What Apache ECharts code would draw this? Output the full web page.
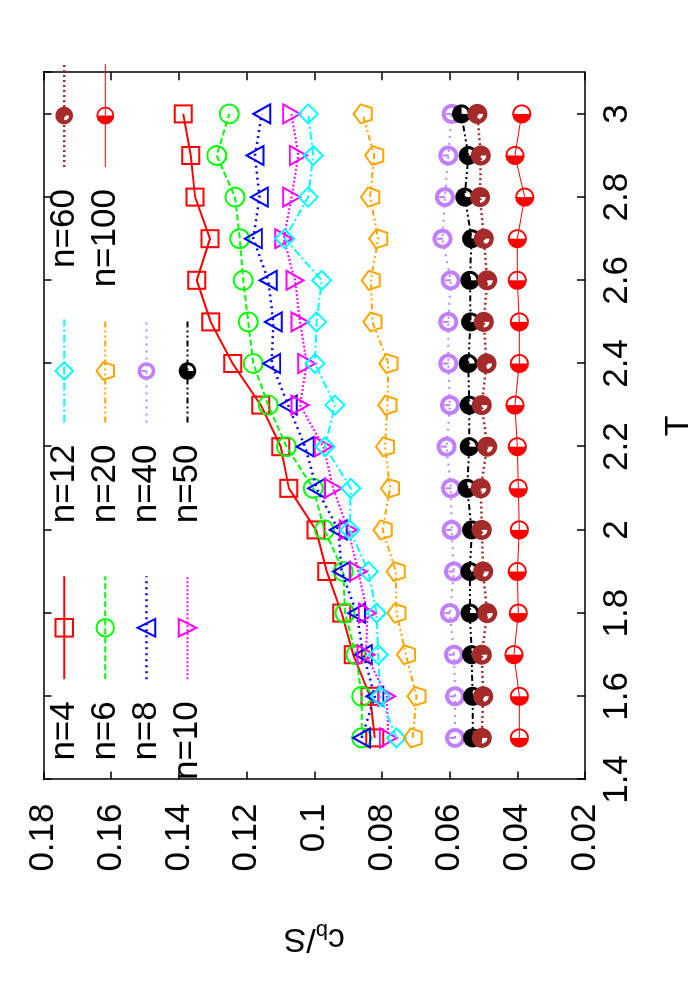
<!DOCTYPE html>
<html>
<head>
<meta charset="utf-8">
<script src="https://cdn.jsdelivr.net/npm/echarts@6/dist/echarts.min.js"></script>
<style>
html,body{margin:0;padding:0;width:700px;height:1000px;overflow:hidden;background:#fff;}
#chart{position:absolute;left:0;top:0;width:1000px;height:700px;transform-origin:0 0;transform:translate(0,1000px) rotate(-90deg);background:#fff;}
</style>
</head>
<body>
<div id="chart"></div>
<script>
// ---------------- data ----------------
const T_VALUES = [1.5, 1.6, 1.7, 1.8, 1.9, 2.0, 2.1, 2.2, 2.3, 2.4, 2.5, 2.6, 2.7, 2.8, 2.9, 3.0];
const SERIES_NAMES = ['n=4', 'n=6', 'n=8', 'n=10', 'n=12', 'n=20', 'n=40', 'n=50', 'n=60', 'n=100'];
const N4   = [0.0821, 0.0835, 0.0885, 0.0919, 0.0963, 0.0995, 0.1075, 0.1099, 0.1158, 0.1241, 0.1306, 0.1347, 0.1308, 0.1352, 0.1365, 0.1387];
const N6   = [0.0860, 0.0860, 0.0877, 0.0909, 0.0914, 0.0970, 0.1003, 0.1082, 0.1136, 0.1180, 0.1195, 0.1210, 0.1220, 0.1234, 0.1288, 0.1251];
const N8   = [0.0860, 0.0821, 0.0855, 0.0875, 0.0919, 0.0929, 0.0993, 0.1027, 0.1077, 0.1126, 0.1121, 0.1136, 0.1180, 0.1162, 0.1175, 0.1155];
const N10  = [0.0781, 0.0786, 0.0847, 0.0843, 0.0870, 0.0900, 0.0944, 0.0973, 0.1042, 0.1022, 0.1042, 0.1057, 0.1090, 0.1067, 0.1047, 0.1067];
const N12  = [0.0757, 0.0805, 0.0811, 0.0816, 0.0840, 0.0895, 0.0892, 0.0968, 0.0939, 0.0998, 0.0993, 0.0978, 0.1087, 0.1018, 0.1003, 0.1018];
const N20  = [0.0709, 0.0698, 0.0729, 0.0757, 0.0759, 0.0798, 0.0776, 0.0791, 0.0784, 0.0781, 0.0828, 0.0833, 0.0811, 0.0835, 0.0823, 0.0857];
const N40  = [0.0584, 0.0584, 0.0587, 0.0599, 0.0587, 0.0594, 0.0596, 0.0609, 0.0599, 0.0604, 0.0604, 0.0597, 0.0621, 0.0614, 0.0604, 0.0594];
const N50  = [0.0532, 0.0532, 0.0535, 0.0540, 0.0540, 0.0535, 0.0548, 0.0542, 0.0542, 0.0545, 0.0538, 0.0540, 0.0535, 0.0555, 0.0545, 0.0565];
const N60  = [0.0505, 0.0501, 0.0505, 0.0489, 0.0501, 0.0505, 0.0508, 0.0489, 0.0505, 0.0491, 0.0499, 0.0489, 0.0499, 0.0510, 0.0508, 0.0518];
const N100 = [0.0394, 0.0394, 0.0410, 0.0397, 0.0400, 0.0394, 0.0397, 0.0400, 0.0407, 0.0394, 0.0394, 0.0400, 0.0400, 0.0378, 0.0407, 0.0387];
const SERIES_VALUES = [N4, N6, N8, N10, N12, N20, N40, N50, N60, N100];

// axis ticks
const T_MIN = 1.4, T_MAX = 3.1, T_STEP = 0.2;
const C_MIN = 0.02, C_MAX = 0.18, C_STEP = 0.02;
const X_NAME = 'T';
const Y_NAME_PARTS = ['c', 'b', '/S'];

// ---------------- symbol shapes ----------------
const TAU = Math.PI * 2;
function arcPts(r, a0, a1, n) {
  const pts = [];
  for (let i = 0; i <= n; i++) {
    const a = a0 + (a1 - a0) * i / n;
    pts.push([50 + r * Math.cos(a), 50 + r * Math.sin(a)]);
  }
  return pts;
}
function sub(pts) {
  return 'M' + pts.map(p => p[0].toFixed(2) + ' ' + p[1].toFixed(2)).join(' L') + ' Z';
}
function ring(R, r) { return sub(arcPts(R, 0, TAU, 60)) + ' ' + sub(arcPts(r, TAU, 0, 60)); }
function sector(r, a0, a1) { return sub([[50, 50]].concat(arcPts(r, a0, a1, 45))); }
function annSector(R, r, a0, a1) { return sub(arcPts(R, a0, a1, 15).concat(arcPts(r, a1, a0, 15))); }

const SYM_PENTAGON = 'path://' + sub([0,1,2,3,4].map(k => {
  const a = -Math.PI / 2 + k * TAU / 5;
  return [50 + 50 * Math.cos(a), 50 + 50 * Math.sin(a)];
}));
const SYM_RINGBAR = 'path://' + ring(50, 30) + ' M45 22 L55 22 L55 52 L45 52 Z';
const SYM_BLACK = 'path://' + sector(50, Math.PI / 2, TAU) + ' ' + annSector(50, 34, 0, Math.PI / 2);
const SYM_BROWN = 'path://' + sector(50, Math.PI, TAU + Math.PI / 2) + ' ' + annSector(50, 28, Math.PI / 2, Math.PI);
const SYM_HALF = 'path://' + ring(50, 40) + ' ' + sector(44, Math.PI / 2, Math.PI * 1.5);

const STYLES = [
  { color: '#ff0000', symbol: 'rect', size: 17, open: true, line: 'solid', width: 2 },
  { color: '#00ff00', symbol: 'circle', size: 19, open: true, line: [6, 3], width: 2 },
  { color: '#0000ff', symbol: 'triangle', size: [19, 17], open: true, line: [2, 4], width: 2.5 },
  { color: '#ff00ff', symbol: 'triangle', rotate: 180, size: [19, 17], open: true, line: [2, 2], width: 2 },
  { color: '#00ffff', symbol: 'diamond', size: 19, open: true, line: [8, 3, 2, 3], width: 2 },
  { color: '#ffa500', symbol: SYM_PENTAGON, size: 19, open: true, line: [6, 3, 2, 3, 2, 3], width: 2 },
  { color: '#c080ff', symbol: SYM_RINGBAR, size: 20, open: false, line: [2, 5], width: 2 },
  { color: '#000000', symbol: SYM_BLACK, size: 19, open: false, line: [6, 3, 2, 3, 2, 3], width: 2 },
  { color: '#a52a2a', symbol: SYM_BROWN, size: 20, open: false, line: [2, 3], width: 2.5 },
  { color: '#ff0000', symbol: SYM_HALF, size: 19, open: false, line: 'solid', width: 1 }
];

const FONT = '"Liberation Sans", Arial, Helvetica, sans-serif';
const FS = 35;
const fmt = v => String(parseFloat(Number(v).toFixed(2)));

const series = SERIES_NAMES.map((name, i) => {
  const s = STYLES[i];
  return {
    name: name,
    type: 'line',
    xAxisIndex: 0,
    yAxisIndex: 0,
    data: T_VALUES.map((t, k) => [t, SERIES_VALUES[i][k]]),
    color: s.color,
    symbol: s.symbol,
    symbolSize: s.size,
    symbolRotate: s.rotate || 0,
    symbolKeepAspect: true,
    showAllSymbol: true,
    lineStyle: { color: s.color, width: s.width, type: s.line },
    itemStyle: s.open
      ? { color: 'rgba(0,0,0,0)', borderColor: s.color, borderWidth: 2 }
      : { color: s.color, borderWidth: 0 },
    emphasis: { disabled: true },
    z: 2 + i
  };
});

function legendCol(names, right) {
  return {
    data: names,
    orient: 'vertical',
    align: 'right',
    right: right,
    top: 46.7,
    padding: 0,
    itemWidth: 103,
    itemHeight: 22,
    itemGap: 6.1,
    selectedMode: false,
    lineStyle: { width: 'inherit' },
    textStyle: { fontSize: FS, color: '#000', fontFamily: FONT, lineHeight: 30, padding: [0, 17, 0, 0] }
  };
}

const axisCommon = {
  type: 'value',
  axisLine: { show: true, onZero: false, lineStyle: { color: '#000', width: 1.5 } },
  axisTick: { show: true, inside: true, length: 8, lineStyle: { color: '#000', width: 1.5 } },
  splitLine: { show: false }
};

const option = {
  animation: false,
  backgroundColor: '#fff',
  grid: { left: 220.5, right: 72.3, top: 43.5, bottom: 115, containLabel: false, outerBoundsMode: 'none' },
  legend: [
    legendCol(SERIES_NAMES.slice(0, 4), 575),
    legendCol(SERIES_NAMES.slice(4, 8), 318.5),
    legendCol(SERIES_NAMES.slice(8, 10), 62.8)
  ],
  xAxis: [
    Object.assign({}, axisCommon, {
      position: 'bottom', min: T_MIN, max: T_MAX, interval: T_STEP,
      name: X_NAME, nameLocation: 'middle', nameGap: 77,
      nameTextStyle: { fontSize: 34, color: '#000', fontFamily: FONT },
      axisLabel: { show: true, fontSize: FS, color: '#000', fontFamily: FONT, margin: 15, formatter: fmt, showMaxLabel: false }
    }),
    Object.assign({}, axisCommon, {
      position: 'top', min: T_MIN, max: T_MAX, interval: T_STEP,
      axisLabel: { show: false }
    })
  ],
  yAxis: [
    Object.assign({}, axisCommon, {
      position: 'left', min: C_MIN, max: C_MAX, interval: C_STEP,
      name: '{a|' + Y_NAME_PARTS[0] + '}{s|' + Y_NAME_PARTS[1] + '}{a|' + Y_NAME_PARTS[2] + '}',
      nameLocation: 'middle', nameGap: 140,
      nameTextStyle: {
        fontSize: 34, color: '#000', fontFamily: FONT,
        rich: {
          a: { fontSize: 34, color: '#000', fontFamily: FONT, lineHeight: 38, verticalAlign: 'middle' },
          s: { fontSize: 22, color: '#000', fontFamily: FONT, lineHeight: 14, verticalAlign: 'bottom' }
        }
      },
      axisLabel: { show: true, fontSize: FS, color: '#000', fontFamily: FONT, margin: 24, formatter: fmt }
    }),
    Object.assign({}, axisCommon, {
      position: 'right', min: C_MIN, max: C_MAX, interval: C_STEP,
      axisLabel: { show: false }
    })
  ],
  series: series
};

const chart = echarts.init(document.getElementById('chart'), null, { renderer: 'canvas', width: 1000, height: 700 });
chart.setOption(option);
</script>
</body>
</html>
